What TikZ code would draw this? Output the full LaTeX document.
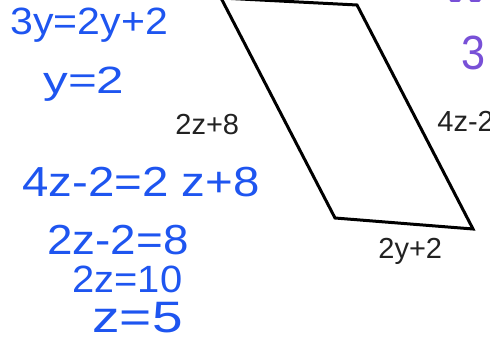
\documentclass[tikz,border=0pt]{standalone}
\usepackage{fontspec}
\setmainfont{Liberation Sans}
\usepackage{tikz}
\usetikzlibrary{positioning}

\definecolor{inkblue}{RGB}{30,85,240}
\definecolor{inkpurple}{RGB}{120,80,215}
\definecolor{printgray}{RGB}{34,34,34}

\begin{document}
\begin{tikzpicture}[
  x=0.5pt,y=-0.5pt,
  side/.style={anchor=base west,inner sep=0pt,text=printgray,font=\fontsize{14.5}{17}\selectfont},
  hand/.style 2 args={anchor=base west,inner sep=0pt,text=inkblue,
    font=\fontsize{#1}{#1}\selectfont\addfontfeature{FakeStretch=#2}},
]
\useasboundingbox (0,0) rectangle (490,341);
\clip (0,0) rectangle (490,341);

% Parallelogram
\coordinate (tl) at (221,-2);
\coordinate (tr) at (357,5);
\coordinate (br) at (473,229);
\coordinate (bl) at (335,218);
\draw[line width=1.5pt,line join=miter] (tl) -- (tr) -- (br) -- (bl) -- cycle;

% Side labels
\node[side] (lblLeft) at (175,135) {2z+8};
\node[side] (lblRight) at (437,132) {4z-2};
\node[side] (lblBottom) at (378,258) {2y+2};

% Working
\node[hand={19}{1.08}] (eqA) at (10,35) {3y=2y+2};
\node[hand={19}{1.3}] (eqB) at (43,94) {y=2};
\node[hand={21}{1.13}] (eqC) at (22,196) {4z-2=2 z+8};
\node[hand={21}{1.09}] (eqD) at (47,254) {2z-2=8};
\node[hand={19}{1.05}] (eqE) at (72,292) {2z=10};
\node[hand={22}{1.25}] (eqF) at (92,332) {z=5};

% Top right
\node[hand={24}{0.9},text=inkpurple] (three) at (461,70) {3};
\draw[inkpurple,line width=1.5pt,line cap=round] (451,1) -- (459,1);
\draw[inkpurple,line width=1.5pt,line cap=round] (471,1) -- (479,1);

\end{tikzpicture}
\end{document}
